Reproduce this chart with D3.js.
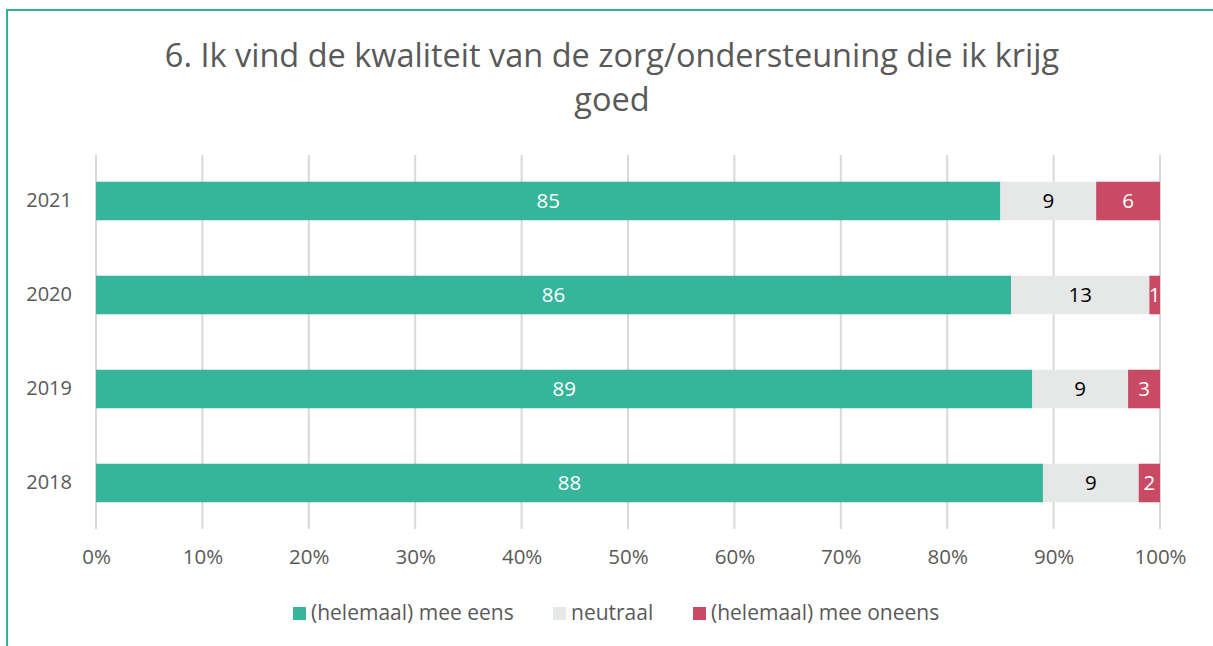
<!DOCTYPE html>
<html><head><meta charset="utf-8">
<script src="https://cdn.jsdelivr.net/npm/d3@7"></script>
<style>body{margin:0;background:#fff}svg{display:block}text{font-family:"Open Sans",Lato,sans-serif}</style>
</head><body><svg id="c" width="1213" height="646"></svg>
<script>
const years = ["2021","2020","2019","2018"];
const seriesNames = ["(helemaal) mee eens","neutraal","(helemaal) mee oneens"];
const eens = [85, 86, 88, 89];
const neutraal = [9, 13, 9, 9];
const oneens = [6, 1, 3, 2];
const eensLabels = ["85","86","89","88"];
const neutraalLabels = ["9","13","9","9"];
const oneensLabels = ["6","1","3","2"];
const xTicks = [0,10,20,30,40,50,60,70,80,90,100];
const colors = ["#37b59a","#e6e8e8","#c94a64"];
const labelColors = ["#ffffff","#000000","#ffffff"];

const svg = d3.select("#c");
svg.append("rect").attr("x",7).attr("y",10).attr("width",1300).attr("height",700)
  .attr("fill","none").attr("stroke","#2bb39a").attr("stroke-width",2);

svg.append("text").attr("x",612).attr("y",67).attr("text-anchor","middle")
  .attr("font-size",32.5).attr("fill","#595959").text("6. Ik vind de kwaliteit van de zorg/ondersteuning die ik krijg");
svg.append("text").attr("x",612).attr("y",111).attr("text-anchor","middle")
  .attr("font-size",32.5).attr("fill","#595959").text("goed");

const x = d3.scaleLinear().domain([0,100]).range([96,1160]);
const y = d3.scaleBand().domain(years).range([154,530]).paddingInner(0.59).paddingOuter(0.295);

const g = svg.append("g");
g.selectAll("line.grid").data(xTicks).join("line")
  .attr("x1",d=>x(d)).attr("x2",d=>x(d)).attr("y1",155).attr("y2",529)
  .attr("stroke","#d9d9d9").attr("stroke-width",2);

const xAxis = d3.axisBottom(x).tickValues(xTicks).tickFormat(d=>d+"%").tickSize(0).tickPadding(0);
const ax = svg.append("g").attr("transform","translate(0,551)").call(xAxis);
ax.select(".domain").remove();
ax.selectAll("text").attr("font-size",20.5).attr("fill","#595959").attr("dy","0.35em").attr("y",6);

const yAxis = d3.axisLeft(y).tickSize(0).tickPadding(0);
const ay = svg.append("g").attr("transform","translate(72,0)").call(yAxis);
ay.select(".domain").remove();
ay.selectAll("text").attr("font-size",20).attr("fill","#595959");

const rows = years.map((yr,i)=>({year:yr, vals:[eens[i],neutraal[i],oneens[i]], labels:[eensLabels[i],neutraalLabels[i],oneensLabels[i]]}));
const stack = d3.stack().keys([0,1,2]).value((d,k)=>d.vals[k]);
const layers = stack(rows);

layers.forEach((layer,k)=>{
  const lg = svg.append("g");
  lg.selectAll("rect").data(layer).join("rect")
    .attr("x",d=>x(d[0])).attr("width",d=>x(d[1])-x(d[0]))
    .attr("y",d=>y(d.data.year)).attr("height",y.bandwidth())
    .attr("fill",colors[k]);
  lg.selectAll("text").data(layer).join("text")
    .attr("x",d=>(x(d[0])+x(d[1]))/2).attr("y",d=>y(d.data.year)+y.bandwidth()/2)
    .attr("dy","0.35em").attr("text-anchor","middle").attr("font-size",20.5)
    .attr("fill",labelColors[k]).text(d=>d.data.labels[k]);
});

// legend
const legendX = [293, 553, 693];
const lgd = svg.append("g");
seriesNames.forEach((n,i)=>{
  lgd.append("rect").attr("x",legendX[i]).attr("y",607).attr("width",13).attr("height",13).attr("fill",colors[i]);
  lgd.append("text").attr("x",legendX[i]+18).attr("y",613).attr("dy","0.35em")
    .attr("font-size",21).attr("fill","#595959").text(n);
});
</script></body></html>
